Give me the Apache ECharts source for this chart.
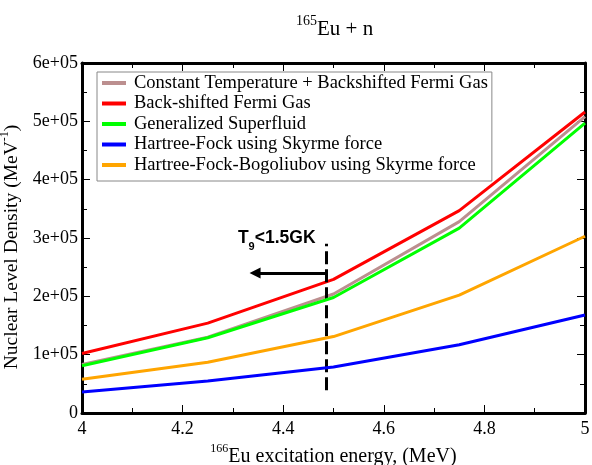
<!DOCTYPE html>
<html>
<head>
<meta charset="utf-8">
<script src="https://cdn.jsdelivr.net/npm/echarts@6/dist/echarts.min.js"></script>
<style>
  html, body { margin: 0; padding: 0; background: #fff; }
  #chart { width: 592px; height: 465px; }
</style>
</head>
<body>
<div id="chart"></div>
<script>
// Excitation energies of 166Eu (MeV)
const energies = [4, 4.25, 4.5, 4.75, 5];

// Nuclear level densities (MeV^-1) for each model
const ctBsfg    = [83000, 130000, 204000, 328000, 508000];
const bsfg      = [102000, 154000, 229000, 347000, 516000];
const gsf       = [81000, 129000, 198000, 317000, 497000];
const hfSkyrme  = [36000, 55000, 79000, 117000, 168000];
const hfbSkyrme = [58000, 87000, 131000, 202000, 303000];

const modelNames = [
  'Constant Temperature + Backshifted Fermi Gas',
  'Back-shifted Fermi Gas',
  'Generalized Superfluid',
  'Hartree-Fock using Skyrme force',
  'Hartree-Fock-Bogoliubov using Skyrme force'
];
const modelColors = ['#bc8f8f', '#ff0000', '#00ff00', '#0000ff', '#ffa500'];
const modelValues = [ctBsfg, bsfg, gsf, hfSkyrme, hfbSkyrme];

// Temperature threshold marker (T9 < 1.5 GK)
const thresholdEnergy = 4.485;
const thresholdSpan = [39000, 290000];
const arrowLevel = 240000;
const arrowTipEnergy = 4.344;
const noteAnchor = [4.31, 300000];

const serif = 'Liberation Serif';

const chart = echarts.init(document.getElementById('chart'), null, { renderer: 'canvas' });

const modelSeries = modelNames.map((name, i) => ({
  name: name,
  type: 'line',
  data: energies.map((e, j) => [e, modelValues[i][j]]),
  symbol: 'none',
  lineStyle: { color: modelColors[i], width: 3 },
  itemStyle: { color: modelColors[i] },
  z: 3 + i,
  animation: false
}));

const markerSeries = {
  name: 'threshold',
  type: 'line',
  data: [],
  animation: false,
  silent: true,
  z: 10,
  markLine: {
    silent: true,
    animation: false,
    label: { show: false },
    emphasis: { disabled: true },
    data: [
      [
        { coord: [thresholdEnergy, thresholdSpan[0]], symbol: 'none',
          lineStyle: { color: '#000', width: 3, type: [13, 5] } },
        { coord: [thresholdEnergy, thresholdSpan[1]], symbol: 'none' }
      ],
      [
        { coord: [thresholdEnergy, arrowLevel], symbol: 'none',
          lineStyle: { color: '#000', width: 3, type: 'solid' } },
        { coord: [arrowTipEnergy, arrowLevel], symbol: 'triangle', symbolSize: 11 }
      ]
    ]
  },
  markPoint: {
    silent: true,
    animation: false,
    symbol: 'circle',
    symbolSize: 0,
    data: [{
      coord: noteAnchor,
      label: {
        show: true,
        position: 'right',
        distance: 0,
        formatter: '{t|T}{s|9}{t|<1.5GK}',
        rich: {
          t: { fontFamily: 'Liberation Sans', fontWeight: 'bold', fontSize: 17.5, color: '#000', lineHeight: 28, verticalAlign: 'middle' },
          s: { fontFamily: 'Liberation Sans', fontWeight: 'bold', fontSize: 11, color: '#000', lineHeight: 12, verticalAlign: 'bottom' }
        }
      }
    }]
  }
};

const tickCommon = { show: true, inside: true, length: 8, lineStyle: { color: '#000', width: 1 } };
const minorCommon = { show: true, splitNumber: 2, length: 5, lineStyle: { color: '#000', width: 1 } };
const axisLineCommon = { show: true, onZero: false, lineStyle: { color: '#000', width: 3 } };

const option = {
  backgroundColor: '#fff',
  animation: false,
  title: {
    text: '{s|165}{m|Eu + n}',
    left: 291,
    top: 9,
    textStyle: {
      fontWeight: 'normal',
      rich: {
        s: { fontFamily: serif, fontWeight: 'normal', fontSize: 14, color: '#000', lineHeight: 10, verticalAlign: 'top' },
        m: { fontFamily: serif, fontWeight: 'normal', fontSize: 21, color: '#000', lineHeight: 30, verticalAlign: 'middle' }
      }
    }
  },
  legend: {
    orient: 'vertical',
    left: 97,
    top: 72,
    data: modelNames,
    icon: 'rect',
    itemWidth: 24,
    itemHeight: 4,
    itemGap: 0.5,
    padding: [1, 4, 6, 5],
    borderColor: '#888',
    borderWidth: 1,
    borderRadius: 0,
    backgroundColor: '#fff',
    selectedMode: false,
    textStyle: { fontFamily: serif, fontSize: 18.5, color: '#000', padding: [0, 0, 0, 3], lineHeight: 20 }
  },
  grid: { left: 82, right: 7, top: 63, bottom: 52, containLabel: false, outerBoundsMode: 'none' },
  xAxis: [
    {
      type: 'value',
      min: 4,
      max: 5,
      interval: 0.2,
      position: 'bottom',
      axisLine: axisLineCommon,
      axisTick: tickCommon,
      minorTick: minorCommon,
      splitLine: { show: false },
      axisLabel: {
        show: true,
        margin: 7,
        fontFamily: serif,
        fontSize: 18,
        color: '#000',
        showMinLabel: true,
        showMaxLabel: true,
        formatter: v => (Math.abs(v - Math.round(v)) < 1e-9 ? String(Math.round(v)) : v.toFixed(1))
      },
      name: '{s|166}{m|Eu excitation energy, (MeV)}',
      nameLocation: 'middle',
      nameGap: 22,
      nameTextStyle: {
        rich: {
          s: { fontFamily: serif, fontSize: 12, color: '#000', lineHeight: 12, verticalAlign: 'top' },
          m: { fontFamily: serif, fontSize: 20, color: '#000', lineHeight: 28, verticalAlign: 'middle' }
        }
      }
    },
    {
      type: 'value',
      min: 4,
      max: 5,
      interval: 0.2,
      position: 'top',
      axisLine: axisLineCommon,
      axisTick: tickCommon,
      minorTick: minorCommon,
      splitLine: { show: false },
      axisLabel: { show: false }
    }
  ],
  yAxis: [
    {
      type: 'value',
      min: 0,
      max: 600000,
      interval: 100000,
      position: 'left',
      axisLine: axisLineCommon,
      axisTick: tickCommon,
      minorTick: minorCommon,
      splitLine: { show: false },
      axisLabel: {
        show: true,
        margin: 4,
        fontFamily: serif,
        fontSize: 18,
        color: '#000',
        formatter: v => (v === 0 ? '0' : Math.round(v / 100000) + 'e+05')
      },
      name: '{m|Nuclear Level Density (MeV}{s|-1}{m|)}',
      nameLocation: 'middle',
      nameGap: 55,
      nameTextStyle: {
        padding: [0, 18, 0, 0],
        rich: {
          s: { fontFamily: serif, fontSize: 12, color: '#000', lineHeight: 11, verticalAlign: 'top' },
          m: { fontFamily: serif, fontSize: 19.5, color: '#000', lineHeight: 26, verticalAlign: 'middle' }
        }
      }
    },
    {
      type: 'value',
      min: 0,
      max: 600000,
      interval: 100000,
      position: 'right',
      axisLine: axisLineCommon,
      axisTick: tickCommon,
      minorTick: minorCommon,
      splitLine: { show: false },
      axisLabel: { show: false }
    }
  ],
  series: modelSeries.concat([markerSeries])
};

chart.setOption(option);
</script>
</body>
</html>
